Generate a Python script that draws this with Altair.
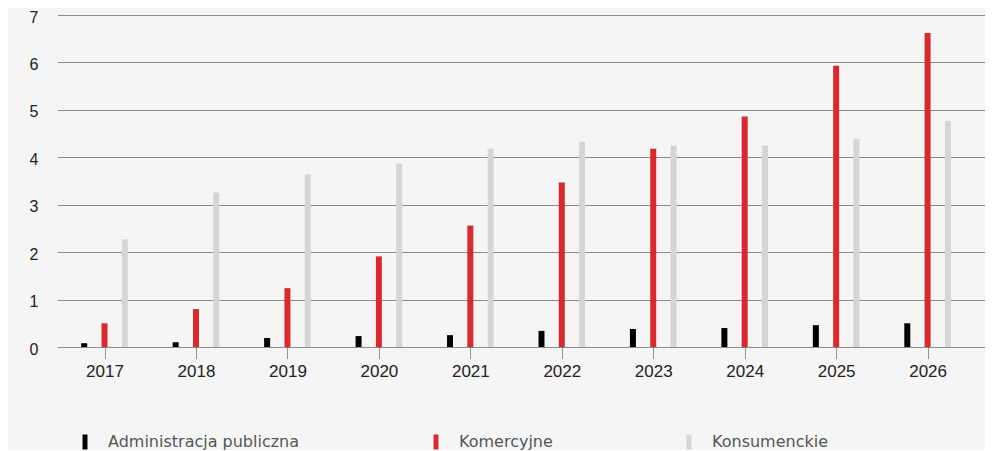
import altair as alt
import pandas as pd

years = [2017, 2018, 2019, 2020, 2021, 2022, 2023, 2024, 2025, 2026]
series = ["Administracja publiczna", "Komercyjne", "Konsumenckie"]
admin = [0.08, 0.10, 0.19, 0.23, 0.25, 0.34, 0.38, 0.40, 0.46, 0.50]
komercyjne = [0.50, 0.80, 1.24, 1.91, 2.56, 3.47, 4.18, 4.86, 5.93, 6.62]
konsumenckie = [2.27, 3.26, 3.64, 3.87, 4.18, 4.33, 4.25, 4.25, 4.39, 4.77]
colors = ["#000000", "#d9292f", "#d5d5d7"]

rows = []
for name, vals in zip(series, [admin, komercyjne, konsumenckie]):
    for y, v in zip(years, vals):
        rows.append({"rok": y, "seria": name, "wartosc": v})
df = pd.DataFrame(rows)

FONT = "Liberation Sans"

bars = alt.Chart(df).transform_calculate(
    xpos="datum.rok + (datum.seria === 'Administracja publiczna' ? -0.222 : (datum.seria === 'Konsumenckie' ? 0.222 : 0))"
).mark_bar(size=6).encode(
    x=alt.X("xpos:Q",
            scale=alt.Scale(domain=[2016.546, 2026.573], nice=False, zero=False),
            axis=alt.Axis(values=years, format="d", title=None, grid=False, domain=False,
                          ticks=True, tickSize=12, tickColor="#333", tickDash=[1, 1], tickWidth=1,
                          labelFont=FONT, labelFontSize=17, labelColor="#222", labelPadding=4)),
    y=alt.Y("wartosc:Q",
            scale=alt.Scale(domain=[0, 7], nice=False),
            axis=alt.Axis(values=[0, 1, 2, 3, 4, 5, 6, 7], title=None, domain=False, ticks=False,
                          grid=True, gridColor="#222", gridDash=[1, 1], gridWidth=1,
                          labelFont=FONT, labelFontSize=16, labelColor="#222", labelPadding=20,
                          labelOffset=2)),
    color=alt.Color("seria:N",
                    scale=alt.Scale(domain=series, range=colors),
                    legend=alt.Legend(title=None, orient="none", direction="horizontal",
                                      legendX=19, legendY=419, gridAlign="none",
                                      columnPadding=128, labelOffset=15, labelLimit=400,
                                      symbolType="M-0.33,-1L0.33,-1L0.33,1L-0.33,1Z",
                                      symbolSize=225, symbolStrokeWidth=0,
                                      labelFont="DejaVu Sans", labelFontSize=16, labelColor="#555",
                                      padding=0)),
)

chart = bars.properties(
    width=927, height=332,
    padding={"left": 50, "top": 7, "right": 0, "bottom": 103},
    autosize="none",
    background="#f5f5f5",
).configure_view(stroke=None)

chart.save("out.html", embed_options={"renderer": "svg", "actions": False})
